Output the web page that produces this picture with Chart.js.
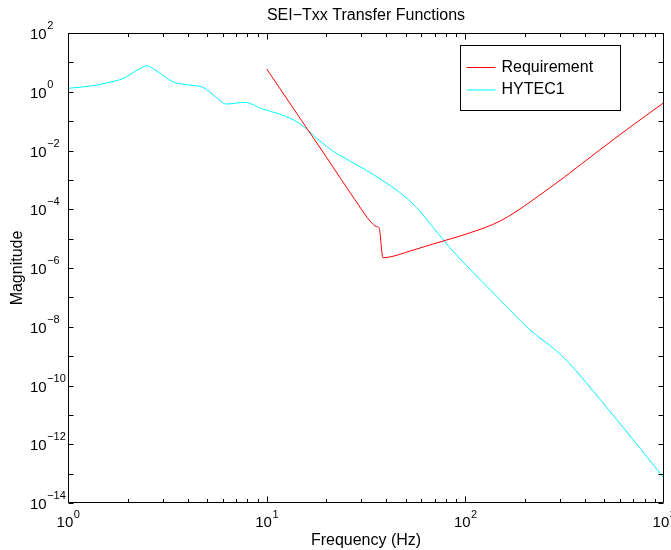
<!DOCTYPE html>
<html>
<head>
<meta charset="utf-8">
<title>SEI−Txx Transfer Functions</title>
<script src="https://cdn.jsdelivr.net/npm/chart.js@4/dist/chart.umd.min.js"></script>
<style>
  html, body { margin: 0; padding: 0; background: #fff; }
  #wrap { width: 671px; height: 550px; }
</style>
</head>
<body>
<div id="wrap"><canvas id="chart" width="671" height="550"></canvas></div>
<script>
// Values (log-log)
const titleText = 'SEI\u2212Txx Transfer Functions';
const xTitle = 'Frequency (Hz)';
const yTitle = 'Magnitude';
const seriesNames = ['Requirement', 'HYTEC1'];
const seriesColors = ['#ff0000', '#00ffff'];

const reqFreq = [10, 15, 20, 27.7, 33.7, 35.5, 36.8, 38.5, 43.3, 50.1, 63.1, 77.3, 95, 109, 126, 149, 178, 215, 316, 475, 708, 1000];
const reqMag = [5.96, 0.104, 5.9e-3, 2.19e-4, 3.47e-5, 2.63e-5, 2.34e-5, 2.24e-6, 2.51e-6, 3.39e-6, 5.5e-6, 8.3e-6, 1.25e-5, 1.7e-5, 2.4e-5, 3.9e-5, 7.9e-5, 1.9e-4, 1.26e-3, 1.05e-2, 7.9e-2, 0.43];

const hytecFreq = [1, 1.33, 1.56, 1.82, 1.96, 2.2, 2.34, 2.48, 2.78, 3.37, 4.09, 4.78, 5.58, 6.27, 7.74, 9.57, 11.6, 13.6, 15.8, 17.8, 21.6, 23.4, 26.2, 31.8, 38.5, 46.8, 56.8, 68.9, 83.6, 149, 211, 305, 578, 1000];
const hytecMag = [1.31, 1.6, 1.98, 2.57, 3.16, 5.21, 6.46, 7.71, 5.21, 2.19, 1.69, 1.41, 0.646, 0.38, 0.437, 0.257, 0.174, 0.111, 0.0562, 0.0263, 9.5e-3, 6.8e-3, 4.4e-3, 2.1e-3, 9.3e-4, 3.7e-4, 1.15e-4, 2.4e-5, 4.9e-6, 8.5e-8, 7.9e-9, 1.05e-9, 6.9e-12, 7e-14];

const xMajorExps = [0, 1, 2, 3];
const yMajorExps = [2, 1, 0, -1, -2, -3, -4, -5, -6, -7, -8, -9, -10, -11, -12, -13, -14];
const yLabelExps = [2, 0, -2, -4, -6, -8, -10, -12, -14];

const FONT = '"Liberation Sans", Arial, Helvetica, sans-serif';

const toPoints = (xs, ys) => xs.map((x, i) => ({ x, y: ys[i] }));

function expText(e) {
  return e < 0 ? '\u2212' + Math.abs(e) : String(e);
}

// MATLAB-like box, inward ticks, power-of-ten labels, titles and legend
const matlabAxes = {
  id: 'matlabAxes',
  afterDatasetsDraw(chart) {
    const { ctx, chartArea: a, scales: { x, y } } = chart;
    const L = Math.round(a.left) + 0.5, R = Math.round(a.right) - 0.5;
    const T = Math.round(a.top) + 0.5, B = Math.round(a.bottom) - 0.5;
    ctx.save();
    ctx.strokeStyle = '#000';
    ctx.lineWidth = 1;
    ctx.beginPath();
    ctx.rect(L, T, R - L, B - T);

    // x ticks, major and minor, on bottom and top
    for (let d = 0; d < 3; d++) {
      for (let k = 1; k <= 9; k++) {
        const px = Math.round(x.getPixelForValue(k * Math.pow(10, d))) + 0.5;
        const len = k === 1 ? 6 : 3.5;
        ctx.moveTo(px, B); ctx.lineTo(px, B - len);
        ctx.moveTo(px, T); ctx.lineTo(px, T + len);
      }
    }
    // y ticks, every decade, on left and right
    yMajorExps.forEach(e => {
      const py = Math.round(y.getPixelForValue(Math.pow(10, e))) + 0.5;
      ctx.moveTo(L, py); ctx.lineTo(L + 5, py);
      ctx.moveTo(R, py); ctx.lineTo(R - 5, py);
    });
    ctx.stroke();

    ctx.fillStyle = '#000';
    ctx.textAlign = 'left';
    ctx.textBaseline = 'alphabetic';
    // x tick labels
    xMajorExps.forEach(e => {
      const px = x.getPixelForValue(Math.pow(10, e));
      ctx.font = '15px ' + FONT;
      const wb = ctx.measureText('10').width;
      ctx.font = '11px ' + FONT;
      const we = ctx.measureText(expText(e)).width;
      const x0 = px - (wb + we) / 2;
      ctx.font = '15px ' + FONT;
      ctx.fillText('10', x0, a.bottom + 24);
      ctx.font = '11px ' + FONT;
      ctx.fillText(expText(e), x0 + wb + 0.5, a.bottom + 15);
    });
    // y tick labels
    yLabelExps.forEach(e => {
      const py = y.getPixelForValue(Math.pow(10, e));
      ctx.font = '15px ' + FONT;
      const wb = ctx.measureText('10').width;
      ctx.fillText('10', 30, py + 6);
      ctx.font = '11px ' + FONT;
      ctx.fillText(expText(e), 30 + wb + 0.5, py - 4);
    });

    // titles
    ctx.textAlign = 'center';
    ctx.textBaseline = 'middle';
    ctx.font = '16px ' + FONT;
    ctx.fillText(titleText, (a.left + a.right) / 2, 16);
    ctx.fillText(xTitle, (a.left + a.right) / 2, a.bottom + 38);
    ctx.save();
    ctx.translate(18, (a.top + a.bottom) / 2);
    ctx.rotate(-Math.PI / 2);
    ctx.fillText(yTitle, 0, 0);
    ctx.restore();

    // legend box
    const bx = 460.5, by = 45.5, bw = 160, bh = 65;
    ctx.fillStyle = '#fff';
    ctx.fillRect(bx, by, bw, bh);
    ctx.strokeStyle = '#000';
    ctx.strokeRect(bx, by, bw, bh);
    chart.data.datasets.forEach((ds, i) => {
      const ly = by + 22 + i * 22.5;
      ctx.strokeStyle = ds.borderColor;
      ctx.beginPath();
      ctx.moveTo(bx + 6, ly); ctx.lineTo(bx + 35, ly);
      ctx.stroke();
      ctx.fillStyle = '#000';
      ctx.textAlign = 'left';
      ctx.textBaseline = 'middle';
      ctx.font = '16px ' + FONT;
      ctx.fillText(ds.label, bx + 41, ly);
    });
    ctx.restore();
  }
};

new Chart(document.getElementById('chart'), {
  type: 'line',
  data: {
    datasets: [
      {
        label: seriesNames[0],
        data: toPoints(reqFreq, reqMag),
        borderColor: seriesColors[0],
        borderWidth: 1,
        pointRadius: 0,
        cubicInterpolationMode: 'monotone',
      },
      {
        label: seriesNames[1],
        data: toPoints(hytecFreq, hytecMag),
        borderColor: seriesColors[1],
        borderWidth: 1,
        pointRadius: 0,
        cubicInterpolationMode: 'monotone',
      },
    ],
  },
  options: {
    responsive: false,
    animation: false,
    devicePixelRatio: 1,
    layout: { padding: { left: 68, top: 33, right: 7, bottom: 47 } },
    scales: {
      x: { type: 'logarithmic', min: 1, max: 1000, display: false },
      y: { type: 'logarithmic', min: 1e-14, max: 100, display: false },
    },
    plugins: {
      legend: { display: false },
      title: { display: false },
      tooltip: { enabled: false },
    },
  },
  plugins: [matlabAxes],
});
</script>
</body>
</html>
